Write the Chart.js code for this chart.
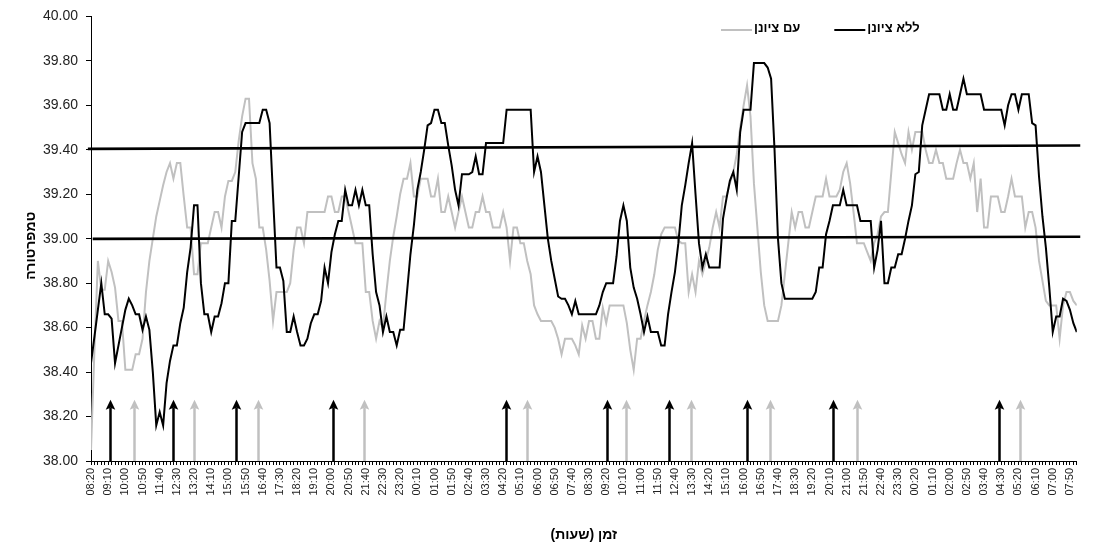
<!DOCTYPE html>
<html>
<head>
<meta charset="utf-8">
<script src="https://cdn.jsdelivr.net/npm/chart.js@4.4.1/dist/chart.umd.min.js"></script>
<style>
html,body{margin:0;padding:0;background:#fff;}
#wrap{width:1093px;height:549px;position:relative;}
canvas{display:block;}
</style>
</head>
<body>
<div id="wrap"><canvas id="c" width="1093" height="549"></canvas></div>
<script>
// x-axis tick labels (every 5th 10-minute sample)
const tickLabels = ["08:20","09:10","10:00","10:50","11:40","12:30","13:20","14:10","15:00","15:50",
"16:40","17:30","18:20","19:10","20:00","20:50","21:40","22:30","23:20","00:10",
"01:00","01:50","02:40","03:30","04:20","05:10","06:00","06:50","07:40","08:30",
"09:20","10:10","11:00","11:50","12:40","13:30","14:20","15:10","16:00","16:50",
"17:40","18:30","19:20","20:10","21:00","21:50","22:40","23:30","00:20","01:10",
"02:00","02:50","03:40","04:30","05:20","06:10","07:00","07:50"];

// series: ללא ציונן (black)
const withoutCooling = [
38.44,38.56,38.68,38.80,38.66,38.66,38.64,38.44,38.52,38.60,
38.68,38.73,38.70,38.66,38.66,38.59,38.65,38.59,38.40,38.16,
38.22,38.16,38.35,38.45,38.52,38.52,38.62,38.69,38.85,38.96,
39.15,39.15,38.80,38.66,38.66,38.58,38.65,38.65,38.71,38.80,
38.80,39.08,39.08,39.28,39.48,39.52,39.52,39.52,39.52,39.52,
39.58,39.58,39.52,39.19,38.87,38.87,38.81,38.58,38.58,38.65,
38.58,38.52,38.52,38.55,38.62,38.66,38.66,38.72,38.87,38.80,
38.94,39.02,39.08,39.08,39.22,39.15,39.15,39.22,39.15,39.22,
39.15,39.15,38.93,38.76,38.70,38.58,38.65,38.58,38.58,38.52,
38.59,38.59,38.76,38.93,39.06,39.22,39.30,39.40,39.51,39.52,
39.58,39.58,39.52,39.52,39.42,39.33,39.22,39.15,39.29,39.29,
39.29,39.30,39.37,39.29,39.29,39.43,39.43,39.43,39.43,39.43,
39.43,39.58,39.58,39.58,39.58,39.58,39.58,39.58,39.58,39.30,
39.37,39.30,39.15,39.00,38.90,38.82,38.74,38.73,38.73,38.70,
38.66,38.72,38.66,38.66,38.66,38.66,38.66,38.66,38.70,38.76,
38.80,38.80,38.80,38.92,39.08,39.15,39.08,38.87,38.78,38.73,
38.66,38.58,38.65,38.58,38.58,38.58,38.52,38.52,38.66,38.76,
38.85,38.98,39.15,39.24,39.34,39.43,39.20,38.98,38.87,38.93,
38.87,38.87,38.87,38.87,39.09,39.18,39.26,39.30,39.22,39.48,
39.58,39.58,39.58,39.79,39.79,39.79,39.79,39.77,39.72,39.40,
39.00,38.80,38.73,38.73,38.73,38.73,38.73,38.73,38.73,38.73,
38.73,38.76,38.87,38.87,39.02,39.08,39.15,39.15,39.15,39.22,
39.15,39.15,39.15,39.15,39.08,39.08,39.08,39.08,38.87,38.95,
39.08,38.80,38.80,38.87,38.87,38.93,38.93,39.00,39.08,39.15,
39.29,39.30,39.51,39.58,39.65,39.65,39.65,39.65,39.58,39.58,
39.65,39.58,39.58,39.65,39.72,39.65,39.65,39.65,39.65,39.65,
39.58,39.58,39.58,39.58,39.58,39.58,39.51,39.60,39.65,39.65,
39.58,39.65,39.65,39.65,39.52,39.51,39.28,39.10,38.96,38.78,
38.58,38.65,38.65,38.73,38.72,38.68,38.62,38.58];

// series: עם ציונן (grey)
const withCooling = [
38.05,38.50,38.90,38.77,38.77,38.90,38.85,38.78,38.63,38.63,
38.41,38.41,38.41,38.48,38.48,38.55,38.76,38.90,39.00,39.10,
39.17,39.24,39.30,39.34,39.27,39.34,39.34,39.19,39.05,39.05,
38.84,38.84,38.98,38.98,38.98,39.05,39.12,39.12,39.05,39.19,
39.26,39.26,39.30,39.44,39.55,39.63,39.63,39.34,39.27,39.05,
39.05,38.95,38.81,38.63,38.76,38.76,38.76,38.76,38.80,38.95,
39.05,39.05,38.98,39.12,39.12,39.12,39.12,39.12,39.12,39.19,
39.19,39.12,39.12,39.19,39.19,39.12,39.05,38.98,38.98,38.98,
38.76,38.76,38.63,38.55,38.63,38.60,38.76,38.90,39.01,39.10,
39.20,39.27,39.27,39.34,39.19,39.19,39.27,39.27,39.27,39.19,
39.19,39.27,39.12,39.12,39.19,39.12,39.05,39.12,39.19,39.12,
39.05,39.05,39.12,39.12,39.19,39.12,39.12,39.05,39.05,39.05,
39.12,39.05,38.90,39.05,39.05,38.98,38.98,38.90,38.84,38.70,
38.66,38.63,38.63,38.63,38.63,38.60,38.55,38.48,38.55,38.55,
38.55,38.52,38.48,38.61,38.55,38.63,38.63,38.55,38.55,38.69,
38.62,38.70,38.70,38.70,38.70,38.70,38.62,38.50,38.41,38.55,
38.55,38.63,38.70,38.76,38.84,38.95,39.02,39.05,39.05,39.05,
39.05,38.99,38.98,38.98,38.76,38.84,38.76,38.90,38.84,38.90,
38.96,39.05,39.12,39.05,39.19,39.19,39.25,39.30,39.38,39.50,
39.60,39.69,39.55,39.25,39.05,38.85,38.70,38.63,38.63,38.63,
38.63,38.70,38.84,38.98,39.12,39.05,39.12,39.12,39.05,39.05,
39.12,39.19,39.19,39.19,39.27,39.19,39.19,39.19,39.22,39.30,
39.34,39.25,39.12,38.98,38.98,38.98,38.94,38.90,38.98,39.02,
39.10,39.12,39.12,39.30,39.48,39.43,39.38,39.34,39.48,39.40,
39.48,39.48,39.48,39.40,39.34,39.34,39.40,39.34,39.34,39.27,
39.27,39.27,39.34,39.40,39.34,39.34,39.27,39.34,39.12,39.27,
39.05,39.05,39.19,39.19,39.19,39.12,39.12,39.19,39.27,39.19,
39.19,39.19,39.05,39.12,39.12,39.05,38.90,38.81,38.72,38.70,
38.70,38.70,38.55,38.70,38.76,38.76,38.72,38.70];

// event arrows (sample index where each arrow stands)
const blackArrowAt = [5.4, 24.0, 42.2, 70.5, 120.8, 150.3, 168.3, 191.0, 216.1, 264.4];
const greyArrowAt  = [12.4, 30.1, 48.7, 79.5, 126.8, 155.8, 174.7, 197.8, 223.1, 270.6];
const arrowTopValue = 38.275;

// reference lines (39.40 and 39.00 bands)
const upperRef = [{x:-0.9, y:39.404}, {x:288, y:39.419}];
const lowerRef = [{x:0.5, y:38.999}, {x:288, y:39.009}];

const FONT = '"Liberation Sans", Arial, sans-serif';
Chart.defaults.font.family = FONT;
Chart.defaults.color = '#222';

const legendItems = [
  {label: 'עם ציונן', color: '#c0c0c0'},
  {label: 'ללא ציונן', color: '#000000'}
];

const arrowPlugin = {
  id: 'arrows',
  afterDatasetsDraw(chart) {
    const {ctx, scales: {x, y}} = chart;
    const base = y.getPixelForValue(38);
    const tip = y.getPixelForValue(arrowTopValue);
    const draw = (arr, color) => arr.forEach(v => {
      const px = Math.round(x.getPixelForValue(v)) + 0.5;
      ctx.save();
      ctx.strokeStyle = color; ctx.fillStyle = color; ctx.lineWidth = 2.5;
      ctx.beginPath(); ctx.moveTo(px, base); ctx.lineTo(px, tip + 8); ctx.stroke();
      ctx.beginPath();
      ctx.moveTo(px, tip);
      ctx.lineTo(px - 4.8, tip + 10);
      ctx.lineTo(px, tip + 8);
      ctx.lineTo(px + 4.8, tip + 10);
      ctx.closePath(); ctx.fill();
      ctx.restore();
    });
    draw(greyArrowAt, '#c0c0c0');
    draw(blackArrowAt, '#000');
  }
};

const legendPlugin = {
  id: 'lineLegend',
  afterDraw(chart) {
    const ctx = chart.ctx;
    ctx.save();
    ctx.font = 'bold 13px ' + FONT;
    ctx.textBaseline = 'middle';
    ctx.textAlign = 'left';
    let cx = 721; const cy = 28;
    legendItems.forEach(it => {
      ctx.strokeStyle = it.color; ctx.lineWidth = 2;
      ctx.beginPath(); ctx.moveTo(cx, cy + 2); ctx.lineTo(cx + 31, cy + 2); ctx.stroke();
      ctx.fillStyle = '#000';
      ctx.fillText(it.label, cx + 33, cy);
      cx += 33 + ctx.measureText(it.label).width + 34;
    });
    ctx.restore();
  }
};

const toXY = arr => arr.map((v, i) => ({x: i, y: v}));

new Chart(document.getElementById('c'), {
  type: 'line',
  data: {
    datasets: [
      {label: 'ללא ציונן', data: toXY(withoutCooling), borderColor: '#000', backgroundColor: '#000', borderWidth: 2},
      {label: 'upper', data: upperRef, borderColor: '#000', borderWidth: 2.6, clip: false},
      {label: 'lower', data: lowerRef, borderColor: '#000', borderWidth: 2.6, clip: false},
      {label: 'עם ציונן', data: toXY(withCooling), borderColor: '#c0c0c0', backgroundColor: '#c0c0c0', borderWidth: 2}
    ]
  },
  options: {
    responsive: false,
    animation: false,
    devicePixelRatio: 1,
    events: [],
    layout: {padding: {left: 0, right: 6, top: 14, bottom: 0}},
    elements: {point: {radius: 0}, line: {tension: 0}},
    plugins: {legend: {display: false}, tooltip: {enabled: false}},
    scales: {
      x: {
        type: 'linear', min: 0, max: 287,
        grid: {display: true, drawOnChartArea: false, drawTicks: true, tickLength: 4, color: '#000'},
        border: {display: true, color: '#000', width: 1},
        ticks: {
          stepSize: 1, autoSkip: false, minRotation: 90, maxRotation: 90, padding: 3,
          font: {size: 11}, color: '#222',
          callback: v => (v % 5 === 0 && tickLabels[v / 5]) ? tickLabels[v / 5] : ''
        },
        title: {display: true, text: '\u200Fזמן (שעות)\u200F', font: {size: 14, weight: 'bold'}, color: '#000', padding: {top: 4, bottom: 5}},
        afterFit: s => { s.height = 88; }
      },
      y: {
        min: 38, max: 40,
        grid: {display: true, drawOnChartArea: false, drawTicks: true, tickLength: 5, color: '#000'},
        border: {display: true, color: '#000', width: 1},
        ticks: {stepSize: 0.2, padding: 8, font: {size: 14}, color: '#222', callback: v => Number(v).toFixed(2)},
        title: {display: true, text: 'טמפרטורה\u2002\u2002', font: {size: 14, weight: 'bold'}, color: '#000', padding: {top: 23, bottom: 0}},
        afterFit: s => { s.width = 91; }
      }
    }
  },
  plugins: [arrowPlugin, legendPlugin]
});
</script>
</body>
</html>
